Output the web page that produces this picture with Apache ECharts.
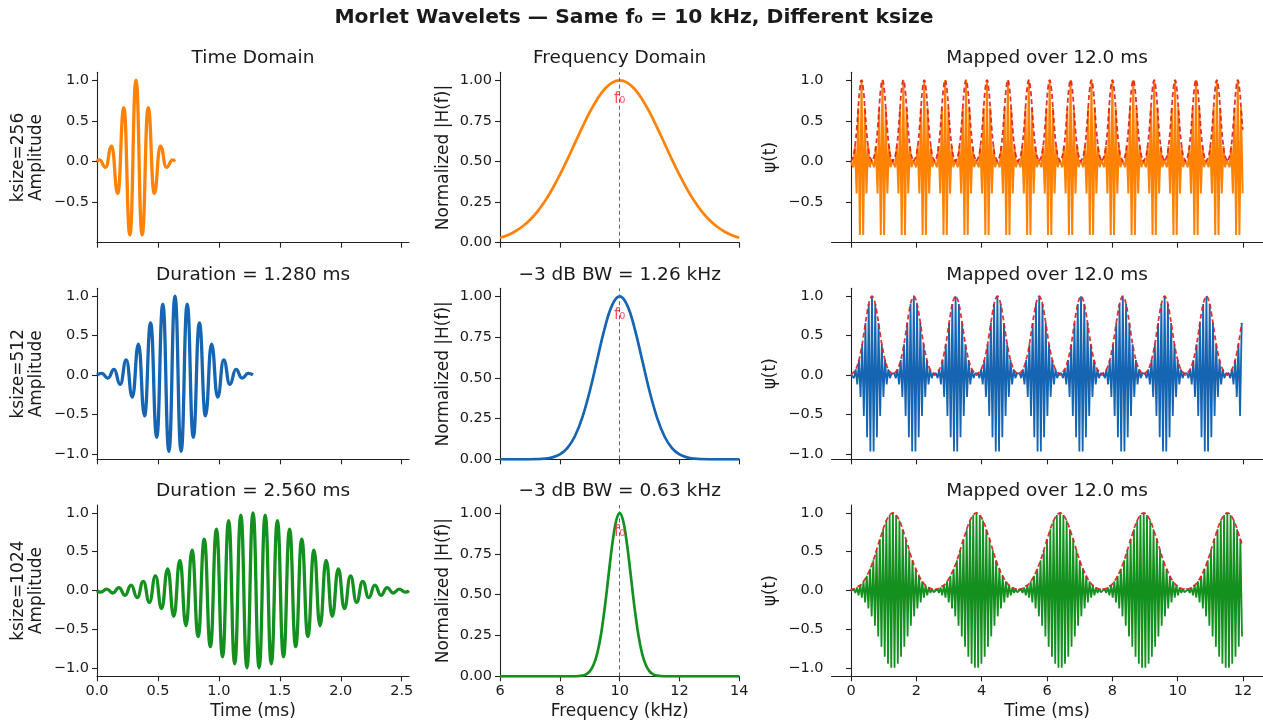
<!DOCTYPE html>
<html><head><meta charset="utf-8">
<script src="https://cdn.jsdelivr.net/npm/echarts@6/dist/echarts.min.js"></script>
<style>html,body{margin:0;padding:0;background:#fff}#c{width:1263px;height:724px}</style>
</head><body><div id="c"></div>
<script>
// ---------------- data ----------------
const ksizes = [256, 512, 1024];
const durationsMs = [0.64, 1.28, 2.56];
const f0kHz = 10;
const mapSpanMs = 12.0;

const timeTicks = [0, 0.5, 1.0, 1.5, 2.0, 2.5];
const freqTicks = [6, 8, 10, 12, 14];
const mapTicks = [0, 2, 4, 6, 8, 10, 12];
const ampTicksTop = [-0.5, 0, 0.5, 1.0];
const ampTicks = [-1.0, -0.5, 0, 0.5, 1.0];
const magTicks = [0, 0.25, 0.5, 0.75, 1.0];

// time-domain wavelets: extrema (peaks / troughs) in ms and amplitude
const t256 = [0, 0.02, 0.07, 0.12, 0.17, 0.22, 0.27, 0.32, 0.37, 0.42, 0.47, 0.52, 0.57, 0.62, 0.64];
const a256 = [0, 0.02, -0.07, 0.19, -0.39, 0.66, -0.90, 1.00, -0.90, 0.66, -0.39, 0.19, -0.07, 0.02, 0];

const t512 = [0, 0.04, 0.09, 0.14, 0.19, 0.24, 0.29, 0.34, 0.39, 0.44, 0.49, 0.54, 0.59, 0.64,
  0.69, 0.74, 0.79, 0.84, 0.89, 0.94, 0.99, 1.04, 1.09, 1.14, 1.19, 1.24, 1.28];
const a512 = [0, 0.02, -0.04, 0.07, -0.12, 0.19, -0.28, 0.39, -0.52, 0.66, -0.79, 0.90, -0.97, 1.00,
  -0.97, 0.90, -0.79, 0.66, -0.52, 0.39, -0.28, 0.19, -0.12, 0.07, -0.04, 0.02, 0];

const t1024 = [0, 0.03, 0.08, 0.13, 0.18, 0.23, 0.28, 0.33, 0.38, 0.43, 0.48, 0.53, 0.58, 0.63, 0.68,
  0.73, 0.78, 0.83, 0.88, 0.93, 0.98, 1.03, 1.08, 1.13, 1.18, 1.23, 1.28, 1.33, 1.38, 1.43, 1.48,
  1.53, 1.58, 1.63, 1.68, 1.73, 1.78, 1.83, 1.88, 1.93, 1.98, 2.03, 2.08, 2.13, 2.18, 2.23, 2.28,
  2.33, 2.38, 2.43, 2.48, 2.53, 2.56];
const a1024 = [0, -0.02, 0.02, -0.03, 0.04, -0.06, 0.07, -0.09, 0.12, -0.15, 0.19, -0.23, 0.28, -0.33, 0.39,
  -0.45, 0.52, -0.59, 0.66, -0.72, 0.79, -0.85, 0.90, -0.94, 0.97, -0.99, 1.00, -0.99, 0.97, -0.94, 0.90,
  -0.85, 0.79, -0.72, 0.66, -0.59, 0.52, -0.45, 0.39, -0.33, 0.28, -0.23, 0.19, -0.15, 0.12, -0.09, 0.07,
  -0.06, 0.04, -0.03, 0.02, -0.02, 0];

// frequency responses (kHz, normalized |H(f)|)
const f256 = [6, 6.25, 6.5, 6.75, 7, 7.25, 7.5, 7.75, 8, 8.25, 8.5, 8.75, 9, 9.25, 9.5, 9.75, 10,
  10.25, 10.5, 10.75, 11, 11.25, 11.5, 11.75, 12, 12.25, 12.5, 12.75, 13, 13.25, 13.5, 13.75, 14];
const h256 = [0.030, 0.046, 0.069, 0.100, 0.140, 0.192, 0.255, 0.331, 0.418, 0.512, 0.612, 0.711, 0.804, 0.884, 0.947, 0.986, 1.000,
  0.986, 0.947, 0.884, 0.804, 0.711, 0.612, 0.512, 0.418, 0.331, 0.255, 0.192, 0.140, 0.100, 0.069, 0.046, 0.030];

const f512 = [6, 6.5, 7, 7.25, 7.5, 7.75, 8, 8.25, 8.5, 8.75, 9, 9.25, 9.5, 9.75, 10,
  10.25, 10.5, 10.75, 11, 11.25, 11.5, 11.75, 12, 12.25, 12.5, 12.75, 13, 13.5, 14];
const h512 = [0, 0, 0.000, 0.001, 0.004, 0.012, 0.030, 0.069, 0.140, 0.256, 0.418, 0.612, 0.804, 0.947, 1.000,
  0.947, 0.804, 0.612, 0.418, 0.256, 0.140, 0.069, 0.030, 0.012, 0.004, 0.001, 0.000, 0, 0];

const f1024 = [6, 7, 8, 8.5, 8.75, 8.875, 9, 9.125, 9.25, 9.375, 9.5, 9.625, 9.75, 9.875, 10,
  10.125, 10.25, 10.375, 10.5, 10.625, 10.75, 10.875, 11, 11.125, 11.25, 11.5, 12, 13, 14];
const h1024 = [0, 0, 0, 0.000, 0.004, 0.012, 0.030, 0.069, 0.140, 0.255, 0.418, 0.612, 0.804, 0.947, 1.000,
  0.947, 0.804, 0.612, 0.418, 0.255, 0.140, 0.069, 0.030, 0.012, 0.004, 0.000, 0, 0, 0];

const colors = ['#ff8205', '#1565b2', '#14901f'];
const envColor = 'rgba(220,30,36,0.9)';

// ---------------- layout ----------------
const FONT = 'DejaVu Sans';
const TXT = '#1a1a1a';
const colX = [[97, 312], [500, 239.3], [831.5, 431.1]];
const rowY = [[72.3, 170.4], [288.3, 171], [505, 171.3]];
const ampRange = [[-0.995, 1.095], [-1.07, 1.1], [-1.1, 1.1]];

const tArr = [t256, t512, t1024];
const aArr = [a256, a512, a1024];
const fArr = [f256, f512, f1024];
const hArr = [h256, h512, h1024];

function zip(xs, ys) { return xs.map((x, i) => [x, ys[i]]); }
// repeat the wavelet back to back over the mapping span
function tile(ts, vs, dur, span, useAbs) {
  const out = [];
  for (let r = 0; r * dur < span - 1e-9; r++) {
    for (let i = 0; i < ts.length; i++) {
      if (r > 0 && i === 0) continue;
      const t = r * dur + ts[i];
      if (t > span + 1e-9) break;
      out.push([+t.toFixed(4), useAbs ? Math.abs(vs[i]) : vs[i]]);
    }
  }
  return out;
}
function fmt(v, d) {
  const s = Math.abs(v).toFixed(d);
  return v < -1e-9 ? '\u2212' + s : s;
}

const grids = [], xAxes = [], yAxes = [], series = [];
const titles = [{
  text: 'Morlet Wavelets \u2014 Same f\u2080 = ' + f0kHz + ' kHz, Different ksize',
  left: 634, top: 8, textAlign: 'center', padding: 0,
  textStyle: { fontFamily: FONT, fontSize: 20.3, fontWeight: 'bold', color: TXT }
}];
const rowTitles = [
  ['Time Domain', 'Frequency Domain', 'Mapped over 12.0 ms'],
  ['Duration = 1.280 ms', '\u22123 dB BW = 1.26 kHz', 'Mapped over 12.0 ms'],
  ['Duration = 2.560 ms', '\u22123 dB BW = 0.63 kHz', 'Mapped over 12.0 ms']
];
const titleTop = [48.5, 265.5, 482];

const axisLineStyle = { color: '#222', width: 1.1 };
const labelStyle = { fontFamily: FONT, fontSize: 14.5, color: TXT };
const mapWidth = [2.0, 1.8, 1.8];

for (let r = 0; r < 3; r++) {
  for (let c = 0; c < 3; c++) {
    const gi = r * 3 + c;
    grids.push({ left: colX[c][0], top: rowY[r][0], width: colX[c][1], height: rowY[r][1] });
    titles.push({
      text: rowTitles[r][c], left: colX[c][0] + colX[c][1] / 2, top: titleTop[r],
      textAlign: 'center', padding: 0,
      textStyle: { fontFamily: FONT, fontSize: 18.5, fontWeight: 'normal', color: TXT }
    });
    const bottom = r === 2;
    let xmin, xmax, xt, xd, yt, yd, ymin, ymax, xname, yname, ygap;
    if (c === 0) {
      xmin = 0; xmax = 2.56; xt = timeTicks; xd = 1; xname = 'Time (ms)';
      yname = 'ksize=' + ksizes[r] + '\nAmplitude'; ygap = 51;
      ymin = ampRange[r][0]; ymax = ampRange[r][1]; yt = r === 0 ? ampTicksTop : ampTicks; yd = 1;
    } else if (c === 1) {
      xmin = 6; xmax = 14; xt = freqTicks; xd = 0; xname = 'Frequency (kHz)';
      yname = 'Normalized |H(f)|'; ygap = 47;
      ymin = 0; ymax = 1.05; yt = magTicks; yd = 2;
    } else {
      xmin = -0.6; xmax = 12.6; xt = mapTicks; xd = 0; xname = 'Time (ms)';
      yname = '\u03c8(t)'; ygap = 52;
      ymin = ampRange[r][0]; ymax = ampRange[r][1]; yt = r === 0 ? ampTicksTop : ampTicks; yd = 1;
    }
    xAxes.push({
      type: 'value', gridIndex: gi, min: xmin, max: xmax,
      axisLine: { show: true, onZero: false, lineStyle: axisLineStyle },
      axisTick: { show: true, length: 5, lineStyle: axisLineStyle, customValues: xt },
      axisLabel: { show: bottom, margin: 7, customValues: xt, formatter: v => fmt(v, xd), ...labelStyle },
      splitLine: { show: false },
      name: bottom ? xname : '', nameLocation: 'middle', nameGap: 27,
      nameTextStyle: { fontFamily: FONT, fontSize: 17, color: TXT }
    });
    yAxes.push({
      type: 'value', gridIndex: gi, min: ymin, max: ymax,
      axisLine: { show: true, lineStyle: axisLineStyle },
      axisTick: { show: true, length: 5, lineStyle: axisLineStyle, customValues: yt },
      axisLabel: { show: true, margin: 8, customValues: yt, formatter: v => fmt(v, yd), ...labelStyle },
      splitLine: { show: false },
      name: yname, nameLocation: 'middle', nameGap: ygap, nameRotate: 90,
      nameTextStyle: { fontFamily: FONT, fontSize: 17, color: TXT, lineHeight: 18 }
    });

    if (c === 0) {
      series.push({
        type: 'line', xAxisIndex: gi, yAxisIndex: gi, data: zip(tArr[r], aArr[r]),
        smooth: 0.5, smoothMonotone: 'x', showSymbol: false, symbol: 'none',
        lineStyle: { color: colors[r], width: 3.3 }
      });
    } else if (c === 1) {
      series.push({
        type: 'line', xAxisIndex: gi, yAxisIndex: gi, data: zip(fArr[r], hArr[r]),
        smooth: 0.4, showSymbol: false, symbol: 'none',
        lineStyle: { color: colors[r], width: 2.7 },
        markLine: {
          silent: true, symbol: 'none', label: { show: false },
          lineStyle: { type: [4, 3], color: '#666', width: 1 },
          data: [{ xAxis: f0kHz }]
        }
      });
      series.push({
        type: 'scatter', xAxisIndex: gi, yAxisIndex: gi, data: [[f0kHz, 0.885]],
        symbolSize: 0, silent: true, z: 5,
        label: { show: true, position: 'inside', formatter: 'f\u2080',
          fontFamily: FONT, fontSize: 15, color: '#f5262e' }
      });
    } else {
      series.push({
        type: 'line', xAxisIndex: gi, yAxisIndex: gi,
        data: tile(tArr[r], aArr[r], durationsMs[r], mapSpanMs, false),
        smooth: false, showSymbol: false, symbol: 'none', sampling: null,
        lineStyle: { color: colors[r], width: mapWidth[r] }
      });
      series.push({
        type: 'line', xAxisIndex: gi, yAxisIndex: gi,
        data: tile(tArr[r], aArr[r], durationsMs[r], mapSpanMs, true),
        smooth: 0.5, showSymbol: false, symbol: 'none',
        lineStyle: { color: envColor, width: 1.8, type: [5, 3] }
      });
    }
  }
}

const chart = echarts.init(document.getElementById('c'), null, { renderer: 'canvas' });
chart.setOption({
  animation: false, backgroundColor: '#fff',
  title: titles, grid: grids, xAxis: xAxes, yAxis: yAxes, series: series
});
</script></body></html>
